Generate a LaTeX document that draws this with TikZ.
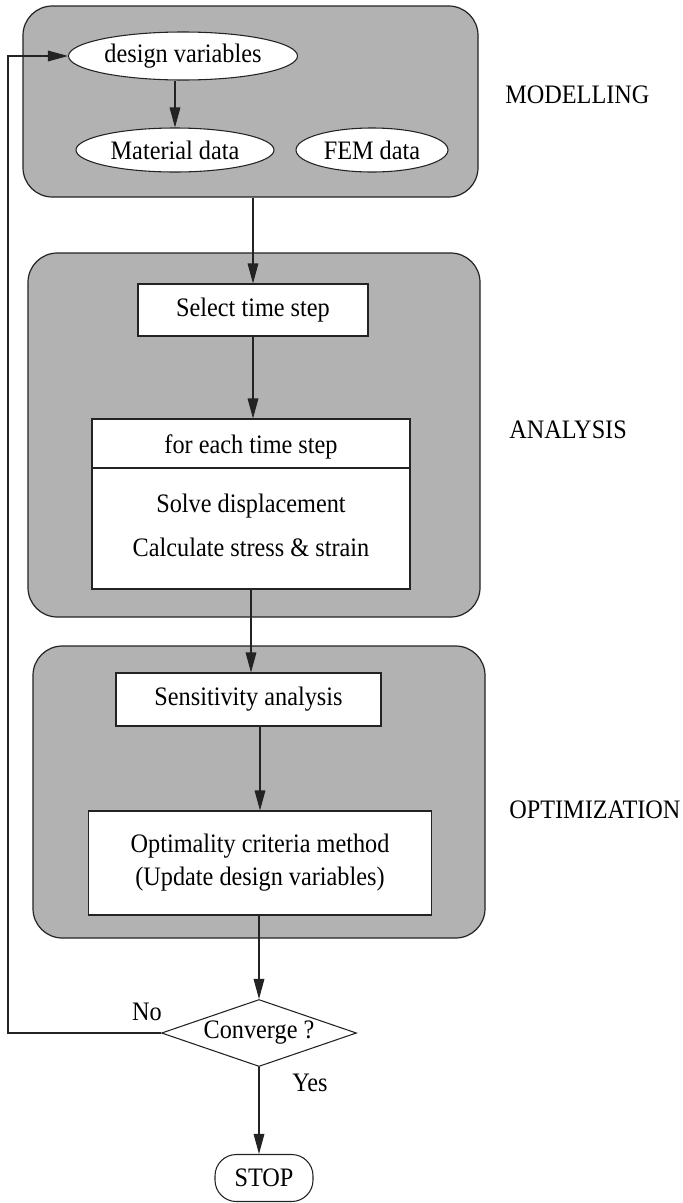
\documentclass[tikz,border=0pt]{standalone}
\usepackage{fontspec}
\setmainfont{Liberation Serif}[FakeStretch=0.91]
\usetikzlibrary{shapes.geometric,arrows.meta}
\definecolor{panelgray}{RGB}{178,178,178}
\definecolor{linegray}{RGB}{35,35,35}
\begin{document}
\begin{tikzpicture}[x=0.75pt,y=-0.75pt,
  font=\fontsize{20}{24.75}\selectfont,
  panel/.style={rectangle, draw=linegray, line width=0.9pt, fill=panelgray, rounded corners=22pt, inner sep=0pt},
  ell/.style={ellipse, draw=linegray, fill=white, line width=0.8pt, inner sep=0pt},
  box/.style={rectangle, draw=linegray, fill=white, line width=0.8pt, inner sep=0pt, align=center},
  conn/.style={draw=linegray, line width=0.8pt},
  arr/.style={conn, -{Triangle[length=15pt,width=8pt]}},
  lbl/.style={anchor=west, inner sep=0pt},
]
\useasboundingbox[fill=white] (0,0) rectangle (682,1203);

% panels
\node[panel, minimum width=341.25pt, minimum height=143.25pt] (pm) at (250.5,101.5) {};
\node[panel, minimum width=339pt, minimum height=273pt] (pa) at (254,435) {};
\node[panel, minimum width=339pt, minimum height=219pt] (po) at (259,792) {};

% modelling
\node[ell, minimum width=171.75pt, minimum height=36pt] (dv) at (183,56) {design variables};
\node[ell, minimum width=148.5pt, minimum height=33pt] (mat) at (175,150) {Material data};
\node[ell, minimum width=114pt, minimum height=33pt] (fem) at (372,150) {FEM data};

% analysis
\node[box, minimum width=172.5pt, minimum height=39pt] (sel) at (253,310) {Select time step};
\node[box, minimum width=238.5pt, minimum height=127.5pt] (each) at (251,504) {};
\coordinate (div) at (0,468);
\draw[conn] (each.west |- div) -- (each.east |- div);
\node (t1) at (251,447) {for each time step};
\node (t2) at (251,506) {Solve displacement};
\node (t3) at (251,547) {Calculate stress \& strain};

% optimization
\node[box, minimum width=198.75pt, minimum height=39.75pt] (sens) at (248.5,699.5) {Sensitivity analysis};
\node[box, minimum width=257.25pt, minimum height=78pt] (opt) at (260,863) {Optimality criteria method\\(Update design variables)};

% decision and stop
\node[diamond, draw=linegray, fill=white, line width=0.8pt, inner sep=0pt, shape aspect=2.9,
      minimum width=146.25pt, minimum height=50.25pt] (conv) at (259,1033) {Converge ?};
\node[rectangle, draw=linegray, fill=white, line width=0.8pt, rounded corners=16pt,
      minimum width=73.5pt, minimum height=35.25pt, inner sep=0pt] (stop) at (264,1178) {STOP};

% side labels
\node[lbl] (lm) at (505,95) {MODELLING};
\node[lbl] (la) at (509,430) {ANALYSIS};
\node[lbl] (lo) at (509,810) {OPTIMIZATION};
\node (no) at (147,1012) {No};
\node (yes) at (310,1083) {Yes};

% connectors
\draw[arr] (mat.north |- dv.south) -- (mat.north);
\draw[arr] (sel.north |- pm.south) -- (sel.north);
\draw[arr] (sel.south) -- (sel.south |- each.north);
\draw[arr] (each.south) -- (each.south |- sens.north);
\draw[arr] (opt.north |- sens.south) -- (opt.north);
\draw[arr] (conv.north |- opt.south) -- (conv.north);
\draw[arr] (conv.south) -- (conv.south |- stop.north);
\coordinate (fbx) at (8,0);
\draw[arr] (conv.west) -- (conv.west -| fbx) -- (dv.west -| fbx) -- (dv.west);
\end{tikzpicture}
\end{document}
